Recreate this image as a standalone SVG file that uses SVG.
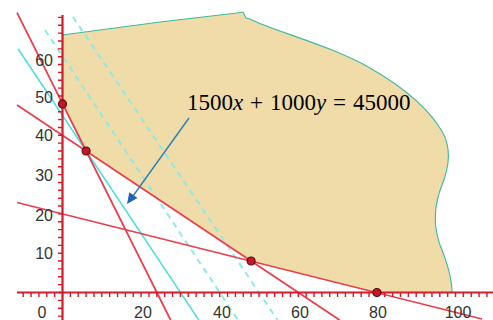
<svg xmlns="http://www.w3.org/2000/svg" width="493" height="320" viewBox="0 0 493 320">
<style>
.region{fill:#efdca8;stroke:none}
.edge{fill:none;stroke:#3fb8a0;stroke-width:1.1}
.con{fill:none;stroke:#e8404e;stroke-width:1.8}
.obj{fill:none;stroke:#55dede;stroke-width:1.6}
.dash{fill:none;stroke:#8ee9e6;stroke-width:2;stroke-dasharray:6 5}
.axis{fill:none;stroke:#d01c28;stroke-width:2.2}
.tick{fill:none;stroke:#d01c28;stroke-width:4.5;stroke-dasharray:1.4 6.46}
.lbl{font-family:"Liberation Sans",Arial,sans-serif;font-size:16px;fill:#333}
.pt{fill:#c01828;stroke:#5a0a10;stroke-width:1.2}
.eq{font-family:"Liberation Serif","Times New Roman",serif;font-size:23px;fill:#000}
.it{font-style:italic}
</style>
<g id="feasible-region">
<path class="region" d="M62.5,35 L160,22 L237,13 L243,12 L246,18 L250,19 C270,30 330,45 370,68 C405,88 430,110 443,133 C452,150 448,170 442,185 C434,205 433,225 440,245 C447,262 452,280 452,292.5 L376.9,292.5 L251.1,261 L86.1,151 L62.5,103.9 Z"/>
<path class="edge" d="M62.5,35 L160,22 L237,13 L243,12 L246,18 L250,19 C270,30 330,45 370,68 C405,88 430,110 443,133 C452,150 448,170 442,185 C434,205 433,225 440,245 C447,262 452,280 452,292.5"/>
</g>
<g id="connectors">
<line class="dash" x1="73" y1="17" x2="277.5" y2="320"/>
<line class="dash" x1="45" y1="30" x2="238" y2="320"/>
<line class="obj" x1="18" y1="48.8" x2="198.8" y2="320"/>
<line class="con" x1="17" y1="12.7" x2="170.6" y2="320"/>
<line class="con" x1="17" y1="105" x2="339.6" y2="320"/>
<line class="con" x1="17" y1="202.5" x2="482" y2="319"/>
</g>
<g id="axes">
<path class="tick" d="M60.2,320 V15" style="stroke-dashoffset:4.64"/>
<path class="tick" d="M17,294.75 H493" style="stroke-dashoffset:2.36"/>
<line class="axis" x1="62.5" y1="15" x2="62.5" y2="320"/>
<line class="axis" x1="17" y1="292.5" x2="493" y2="292.5"/>
</g>
<g id="y-labels">
<text class="lbl" x="53" y="66" text-anchor="end">60</text>
<text class="lbl" x="53" y="103" text-anchor="end">50</text>
<text class="lbl" x="53" y="141" text-anchor="end">40</text>
<text class="lbl" x="53" y="181" text-anchor="end">30</text>
<text class="lbl" x="53" y="221" text-anchor="end">20</text>
<text class="lbl" x="53" y="259" text-anchor="end">10</text>
</g>
<g id="x-labels">
<text class="lbl" x="42" y="318" text-anchor="middle">0</text>
<text class="lbl" x="143" y="318" text-anchor="middle">20</text>
<text class="lbl" x="222" y="318" text-anchor="middle">40</text>
<text class="lbl" x="300" y="318" text-anchor="middle">60</text>
<text class="lbl" x="378" y="318" text-anchor="middle">80</text>
<text class="lbl" x="458" y="318" text-anchor="middle">100</text>
</g>
<g id="vertices">
<circle class="pt" cx="62.5" cy="103.9" r="4"/>
<circle class="pt" cx="86.1" cy="151" r="4"/>
<circle class="pt" cx="251.1" cy="261" r="4"/>
<circle class="pt" cx="376.9" cy="292.5" r="4"/>
</g>
<g id="label">
<text class="eq" y="110"><tspan x="187">1500</tspan><tspan class="it">x</tspan><tspan x="250">+</tspan><tspan x="270">1000</tspan><tspan class="it">y</tspan><tspan x="333">=</tspan><tspan x="353">45000</tspan></text>
<line x1="189" y1="118" x2="133" y2="196" stroke="#2d7fb8" stroke-width="1.4"/>
<polygon points="127,204 137.5,198 129.3,192.2" fill="#2065b8"/>
</g>
</svg>
